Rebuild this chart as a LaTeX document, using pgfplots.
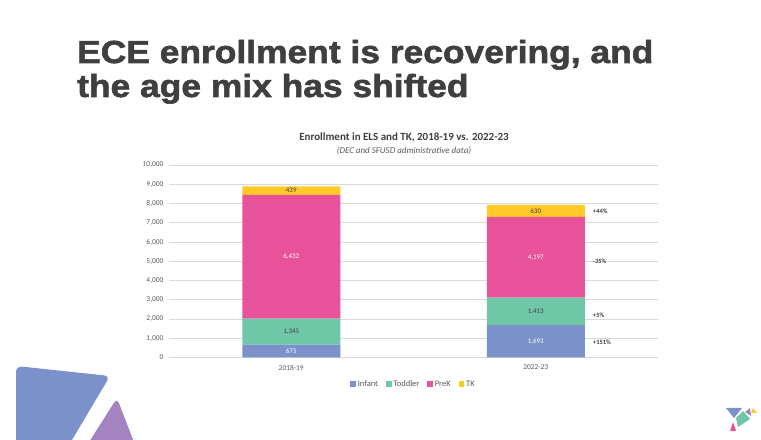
\documentclass[border=0pt]{standalone}
\usepackage{fontspec}
\setmainfont{Carlito}
\newfontfamily\headfont[FakeBold=1.8, FakeStretch=1.11]{Liberation Sans Bold}
\usepackage{pgfplots}
\usepackage{pgfplotstable}
\pgfplotsset{compat=1.18}
\definecolor{cinfant}{HTML}{7A91C9}
\definecolor{ctoddler}{HTML}{70C7A8}
\definecolor{cprek}{HTML}{E8529B}
\definecolor{ctk}{HTML}{FFC928}
\definecolor{cpurple}{HTML}{A384C0}
\definecolor{headgray}{HTML}{3F3F3F}
\definecolor{txtgray}{HTML}{595959}
\definecolor{gridgray}{HTML}{D9D9D9}

\pgfplotstableread{
x infant toddler prek tk
0 675  1345 6432 439
1 1693 1413 4197 630
}\enrol

% label positions: middle of each segment, with the value shown
\pgfplotstableread{
x y v c
0 337.5  675  1
0 1347.5 1345 0
0 5236   6432 1
0 8671.5 439  0
1 846.5  1693 1
1 2399.5 1413 0
1 5204.5 4197 1
1 7618   630  0
}\seglabels

\pgfplotsset{chartbox/.style={
  at={(169bp,82.5bp)}, anchor=south west,
  scale only axis,
  width=489bp, height=192.5bp,
  xmin=-0.5, xmax=1.5,
  ymin=0, ymax=10000,
}}

\begin{document}
\begin{tikzpicture}
\path[use as bounding box] (0bp,0bp) rectangle (761bp,440bp);

% decorative shapes, bottom left
\begin{scope}
\clip (0bp,0bp) rectangle (761bp,440bp);
\fill[cinfant, rounded corners=6bp] (16bp,-10bp) -- (16bp,74bp) -- (110bp,64bp) -- (66bp,-10bp) -- cycle;
\fill[cpurple, rounded corners=5bp] (84bp,-10bp) -- (117bp,42bp) -- (137bp,-10bp) -- cycle;
\end{scope}

% logo, bottom right
\fill[cinfant] (726bp,32bp) -- (742bp,32bp) -- (734bp,22bp) -- cycle;
\fill[ctoddler] (743bp,29bp) -- (750bp,21bp) -- (738bp,13bp) -- (736bp,22bp) -- cycle;
\fill[cpurple] (745bp,28bp) -- (750bp,32bp) -- (751bp,24bp) -- cycle;
\fill[ctk] (753bp,32bp) -- (757bp,27bp) -- (751bp,27bp) -- cycle;
\fill[cprek] (733bp,18bp) -- (736bp,9bp) -- (730bp,9bp) -- cycle;

% slide heading
\node[anchor=base west, inner sep=0pt, text=headgray,
  font=\headfont\fontsize{32}{36}\selectfont] at (77bp,377bp) {ECE enrollment is recovering, and};
\node[anchor=base west, inner sep=0pt, text=headgray,
  font=\headfont\fontsize{32}{36}\selectfont] at (77bp,343bp) {the age mix has shifted};

% chart title
\node[text=headgray, font=\bfseries\fontsize{11}{13}\selectfont] at (404bp,303bp) {Enrollment in ELS and TK, 2018-19 vs. 2022-23};
\node[text=txtgray, font=\itshape\fontsize{9}{10}\selectfont] at (404bp,289bp) {(DEC and SFUSD administrative data)};

\begin{axis}[
  chartbox,
  ybar stacked,
  bar width=98bp,
  ytick={0,1000,...,10000},
  xtick={0,1},
  xticklabels={2018-19,2022-23},
  scaled y ticks=false,
  /pgf/number format/.cd, 1000 sep={,}, assume math mode=true, /pgfplots/.cd,
  ymajorgrids,
  grid style={draw=gridgray, line width=0.8bp},
  axis x line*=bottom,
  axis y line*=left,
  y axis line style={draw=none},
  x axis line style={draw=gridgray, line width=0.8bp},
  major tick length=0pt,
  tick label style={text=txtgray, font=\fontsize{7.5}{8}\selectfont},
  yticklabel style={xshift=-2bp},
  xticklabel style={yshift=-4bp},
  legend columns=4,
  legend style={at={(0.5,-0.138)}, anchor=center, draw=none,
    font=\fontsize{8.5}{9}\selectfont, text=txtgray,
    /tikz/every even column/.append style={column sep=6bp}},
  legend image code/.code={\fill[#1] (0bp,-2.7bp) rectangle (5.5bp,2.8bp);},
]
\addplot[fill=cinfant, draw=none] table[x=x, y=infant] {\enrol};
\addplot[fill=ctoddler, draw=none] table[x=x, y=toddler] {\enrol};
\addplot[fill=cprek, draw=none] table[x=x, y=prek] {\enrol};
\addplot[fill=ctk, draw=none] table[x=x, y=tk] {\enrol};
\legend{Infant, Toddler, PreK, TK}

% change from 2018-19 to 2022-23
\node[anchor=west, font=\bfseries\fontsize{6.5}{7}\selectfont, text=headgray] at (axis cs:1.22,7574) {+44\%};
\node[anchor=west, font=\bfseries\fontsize{6.5}{7}\selectfont, text=headgray] at (axis cs:1.22,5013) {-35\%};
\node[anchor=west, font=\bfseries\fontsize{6.5}{7}\selectfont, text=headgray] at (axis cs:1.22,2208) {+5\%};
\node[anchor=west, font=\bfseries\fontsize{6.5}{7}\selectfont, text=headgray] at (axis cs:1.22,769) {+151\%};
\end{axis}

% segment value labels
\begin{axis}[
  chartbox,
  axis lines=none,
  /pgf/number format/.cd, 1000 sep={,}, assume math mode=true, /pgfplots/.cd,
  point meta=explicit,
  nodes near coords,
  every node near coord/.append style={anchor=center, inner sep=0pt,
    font=\fontsize{7}{8}\selectfont},
]
\addplot[only marks, mark=none, nodes near coords style={text=white}]
  table[x=x, y=y, meta=v, restrict expr to domain={\thisrow{c}}{1:1}] {\seglabels};
\addplot[only marks, mark=none, nodes near coords style={text=headgray}]
  table[x=x, y=y, meta=v, restrict expr to domain={\thisrow{c}}{0:0}] {\seglabels};
\end{axis}
\end{tikzpicture}
\end{document}
